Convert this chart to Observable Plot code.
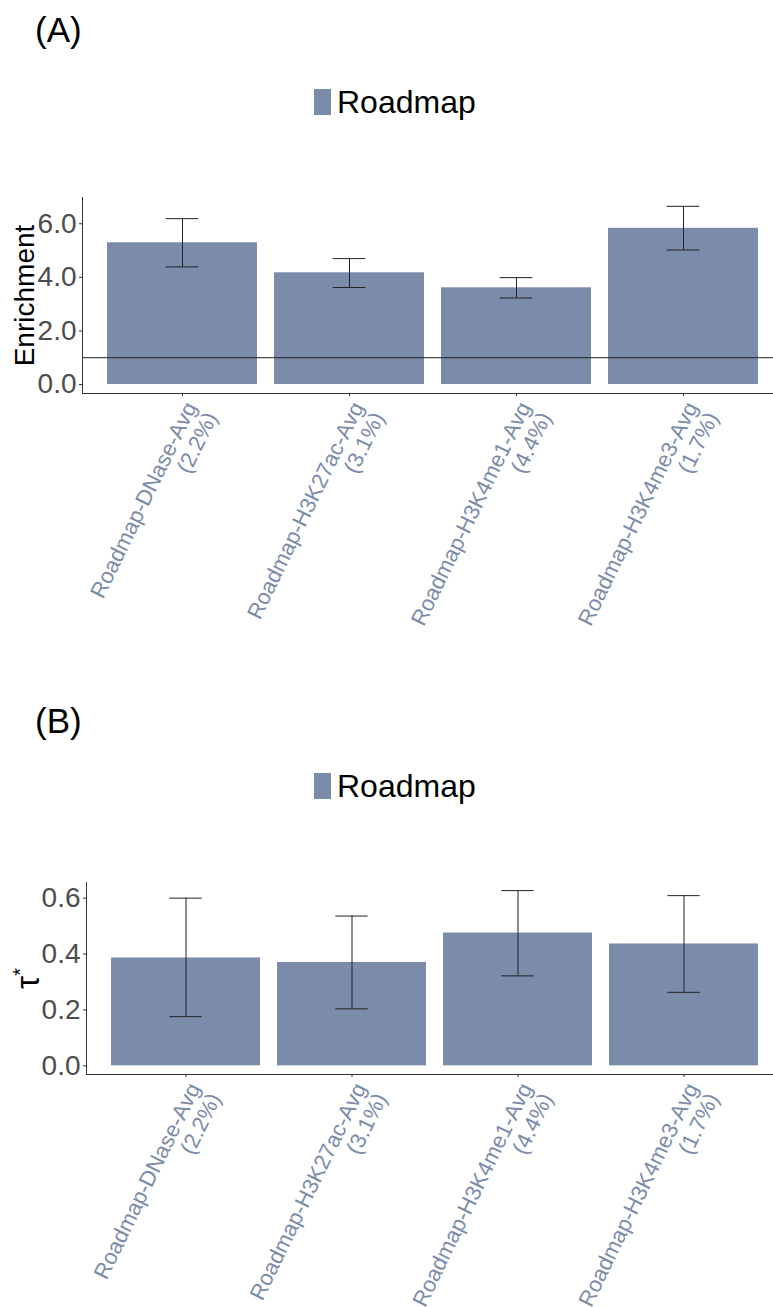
<!DOCTYPE html>
<html>
<head>
<meta charset="utf-8">
<script src="https://cdn.jsdelivr.net/npm/d3@7"></script>
<script src="https://cdn.jsdelivr.net/npm/@observablehq/plot@0.6"></script>
<style>
  body { margin: 0; background: #fff; font-family: "Liberation Sans", Arial, sans-serif; }
  #wrap { position: relative; width: 773px; height: 1307px; overflow: hidden; background: #fff; }
  .tag { position: absolute; font-size: 35px; line-height: 35px; color: #000; white-space: nowrap; }
  .swatch { position: absolute; width: 17px; height: 26px; }
  .legtext { position: absolute; font-size: 32px; line-height: 32px; color: #000; white-space: nowrap; }
  .panel { position: absolute; left: 0; }
</style>
</head>
<body>
<div id="wrap">
  <div class="tag" style="left:35px; top:12px;">(A)</div>
  <div class="swatch" style="left:314px; top:89px;"></div>
  <div class="legtext" style="left:337px; top:86px;">Roadmap</div>
  <div class="panel" id="panelA" style="top:180px;"></div>

  <div class="tag" style="left:35px; top:703px;">(B)</div>
  <div class="swatch" style="left:314px; top:773px;"></div>
  <div class="legtext" style="left:337px; top:770px;">Roadmap</div>
  <div class="panel" id="panelB" style="top:864px;"></div>
</div>
<script>
// ---- data ----
const annotations = ["Roadmap-DNase-Avg", "Roadmap-H3K27ac-Avg", "Roadmap-H3K4me1-Avg", "Roadmap-H3K4me3-Avg"];
const percents = ["2.2%", "3.1%", "4.4%", "1.7%"];
const legendLabel = "Roadmap";

const enrichment = [5.29, 4.17, 3.61, 5.83];
const enrichmentLo = [4.39, 3.62, 3.23, 5.02];
const enrichmentHi = [6.19, 4.70, 3.99, 6.65];
const enrichmentTicks = [0, 2, 4, 6];
const enrichmentRef = [1];

const tau = [0.386, 0.370, 0.475, 0.436];
const tauLo = [0.176, 0.204, 0.322, 0.263];
const tauHi = [0.600, 0.536, 0.627, 0.609];
const tauTicks = [0, 0.2, 0.4, 0.6];

const barColor = "#7B8BAA";
document.querySelectorAll(".swatch").forEach(s => s.style.background = barColor);
document.querySelectorAll(".legtext").forEach(s => s.textContent = legendLabel);

function makePanel(o) {
  const rows = annotations.map((a, i) => ({label: a, pct: percents[i], value: o.values[i], lo: o.lo[i], hi: o.hi[i]}));
  const xRange = [o.marginLeft, 784];
  const step = (xRange[1] - xRange[0]) / 4.2;
  const bandwidth = step * 0.9;
  const capInset = bandwidth * (1 - 0.22) / 2;
  const marks = [
    Plot.barY(rows, {x: "label", y: "value", fill: barColor}),
    Plot.ruleY(o.refs || [], {stroke: "#222", strokeWidth: 1}),
    Plot.ruleX(rows, {x: "label", y1: "lo", y2: "hi", stroke: "#222", strokeWidth: 1}),
    Plot.tickY(rows, {x: "label", y: "hi", stroke: "#222", strokeWidth: 1, inset: capInset}),
    Plot.tickY(rows, {x: "label", y: "lo", stroke: "#222", strokeWidth: 1, inset: capInset}),
    Plot.axisY({ticks: o.ticks, tickFormat: d3.format(".1f"), tickSize: 3, tickPadding: 3, fontSize: 28, fill: "#4d4d4d", stroke: "#333", label: null}),
    Plot.axisX({tickSize: 3, tickFormat: () => "", stroke: "#333", label: null}),
    Plot.frame({anchor: "left", stroke: "#333"}),
    Plot.frame({anchor: "bottom", stroke: "#333"}),
    Plot.text(rows, {x: "label", text: d => `${d.label}\n(${d.pct})`, frameAnchor: "bottom", dy: 6, rotate: -64,
      textAnchor: "end", lineAnchor: "top", fill: barColor, fontSize: 22, lineHeight: 1.05}),
    Plot.text([o.ylabel], {frameAnchor: "left", dx: o.ylabelDx, rotate: -90, textAnchor: "middle", lineAnchor: "bottom",
      fontSize: o.ylabelSize, fill: "#000"})
  ];
  return Plot.plot({
    width: 773,
    height: o.height,
    marginLeft: o.marginLeft,
    marginRight: 0,
    marginTop: o.marginTop,
    marginBottom: o.marginBottom,
    style: {fontFamily: '"Liberation Sans", Arial, sans-serif', background: "white"},
    x: {domain: annotations, range: xRange, paddingInner: 0.1, paddingOuter: 0.15},
    y: {domain: o.yDomain},
    marks
  });
}

const svgA = makePanel({
  values: enrichment, lo: enrichmentLo, hi: enrichmentHi, ticks: enrichmentTicks, refs: enrichmentRef,
  yDomain: [-0.335, 6.98], marginLeft: 82, marginTop: 17, marginBottom: 257, height: 470,
  ylabel: "Enrichment", ylabelDx: -49, ylabelSize: 28
});
document.getElementById("panelA").appendChild(svgA);

const svgB = makePanel({
  values: tau, lo: tauLo, hi: tauHi, ticks: tauTicks, refs: [],
  yDomain: [-0.031, 0.656], marginLeft: 86, marginTop: 18, marginBottom: 233, height: 443,
  ylabel: "τ*", ylabelDx: -48, ylabelSize: 33
});
d3.select(svgB).selectAll("text").filter(function () { return this.textContent === "τ*"; }).each(function () {
  this.textContent = "τ";
  d3.select(this).append("tspan").attr("dy", "-0.6em").attr("font-size", "0.6em").text("*");
});
document.getElementById("panelB").appendChild(svgB);
</script>
</body>
</html>
